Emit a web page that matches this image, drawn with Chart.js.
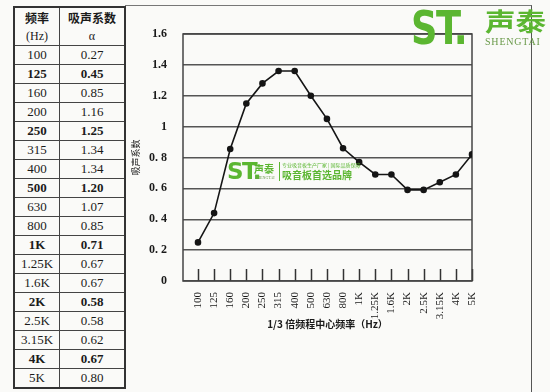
<!DOCTYPE html>
<html lang="zh">
<head>
    <meta charset="UTF-8">
    <title>吸声系数</title>
    <script src="https://cdn.jsdelivr.net/npm/chart.js"></script>
    <style>
        body {
            margin: 0;
            width: 550px;
            height: 392px;
            background-color: #fafaf8;
            position: relative;
            overflow: hidden;
            font-family: "Liberation Serif", serif;
            color: #1a1a1a;
        }

        table {
            position: absolute;
            left: 13px;
            top: 6px;
            width: 113px;
            border-collapse: collapse;
            border: 2px solid #333;
            font-size: 13px;
        }

        table th, table td {
            border: 1px solid #444;
            text-align: center;
            padding: 0;
            height: 18px;
            line-height: 18px;
        }

        table th {
            height: 37px;
            line-height: 17px;
            font-family: "Noto Sans CJK SC", sans-serif;
            font-size: 12px;
        }

        table th small {
            font-family: "Liberation Serif", serif;
            font-size: 12px;
            font-weight: normal;
        }

        tr.b td {
            font-weight: bold;
        }

        #frame {
            position: absolute;
            left: 125px;
            top: 5px;
            width: 406px;
            height: 400px;
            border-top: 1.5px solid #777;
            border-right: 1.5px solid #555;
        }

        #chart {
            position: absolute;
            left: 126px;
            top: 7px;
        }

        .logo {
            position: absolute;
            color: #5bb631;
            white-space: nowrap;
            transform-origin: 0 0;
        }

        .st {
            font-family: "DejaVu Sans", sans-serif;
            font-weight: bold;
            line-height: normal;
        }

        .cn {
            font-family: "Noto Sans CJK SC", sans-serif;
            font-weight: bold;
        }

        .en {
            font-family: "Liberation Serif", serif;
            color: #6a9a4a;
        }
    </style>
</head>
<body>
    <table>
        <thead>
            <tr>
                <th style="width:44px">频率<br><small>(Hz)</small></th>
                <th>吸声系数<br><small>α</small></th>
            </tr>
        </thead>
        <tbody id="rows"></tbody>
    </table>

    <div id="frame"></div>
    <canvas id="chart" width="405" height="385"></canvas>

    <!-- top right logo -->
    <div class="logo st" style="left:411px; top:1px; font-size:46px; letter-spacing:-2px; transform:scaleX(0.8);">ST.</div>
    <div class="logo cn" style="left:485px; top:2px; font-size:25px; transform:scaleX(1.22);">声泰</div>
    <div class="logo en" style="left:485px; top:36px; font-size:10px; letter-spacing:0.8px;">SHENGTAI</div>

    <!-- watermark in the middle -->
    <div class="logo st" style="left:227px; top:158px; font-size:23px; letter-spacing:-1.5px;">ST.</div>
    <div class="logo cn" style="left:254px; top:161px; font-size:10px;">声泰</div>
    <div class="logo en" style="left:255px; top:175px; font-size:4px;">SHENGTAI</div>
    <div class="logo" style="left:279px; top:162px; border-left:1px solid #5bb631; padding-left:2px;">
        <div class="cn" style="font-size:5px; font-weight:normal; line-height:6px;">专业吸音板生产厂家 | 国际品质保障</div>
        <div class="cn" style="font-size:10px; line-height:13px;">吸音板首选品牌</div>
    </div>

    <script>
        // frequency bands (1/3 octave) and values
        const freqLabels = ['100', '125', '160', '200', '250', '315', '400', '500', '630', '800',
            '1K', '1.25K', '1.6K', '2K', '2.5K', '3.15K', '4K', '5K'];
        const tableValues = ['0.27', '0.45', '0.85', '1.16', '1.25', '1.34', '1.34', '1.20', '1.07', '0.85',
            '0.71', '0.67', '0.67', '0.58', '0.58', '0.62', '0.67', '0.80'];
        const boldRows = ['125', '250', '500', '1K', '2K', '4K'];
        // values as drawn on the curve
        const curveValues = [0.25, 0.44, 0.855, 1.15, 1.28, 1.36, 1.36, 1.2, 1.05, 0.86,
            0.77, 0.69, 0.69, 0.59, 0.59, 0.64, 0.69, 0.82];
        const yTicks = [0, 0.2, 0.4, 0.6, 0.8, 1, 1.2, 1.4, 1.6];
        const yTickLabels = ['0', '0. 2', '0. 4', '0. 6', '0. 8', '1', '1.2', '1.4', '1.6'];

        // fill the table
        const tbody = document.getElementById('rows');
        freqLabels.forEach((f, i) => {
            const row = document.createElement('tr');
            if (boldRows.includes(f)) row.className = 'b';
            const c1 = document.createElement('td');
            c1.textContent = f;
            const c2 = document.createElement('td');
            c2.textContent = tableValues[i];
            row.appendChild(c1);
            row.appendChild(c2);
            tbody.appendChild(row);
        });

        // plot frame + little tick marks standing inside the plot
        const frameTicks = {
            id: 'frameTicks',
            beforeDatasetsDraw(chart) {
                const { ctx, chartArea: a, scales: { x } } = chart;
                ctx.save();
                ctx.strokeStyle = '#333';
                ctx.lineWidth = 1.5;
                freqLabels.forEach((_, i) => {
                    const px = Math.round(x.getPixelForValue(i)) + 0.5;
                    ctx.beginPath();
                    ctx.moveTo(px, a.bottom);
                    ctx.lineTo(px, a.bottom - 12);
                    ctx.stroke();
                });
                ctx.strokeStyle = '#444';
                ctx.strokeRect(a.left, a.top, a.right - a.left, a.bottom - a.top);
                ctx.restore();
            }
        };

        const ctx = document.getElementById('chart').getContext('2d');
        new Chart(ctx, {
            type: 'line',
            data: {
                datasets: [{
                    data: curveValues.map((v, i) => ({ x: i, y: v })),
                    borderColor: '#151515',
                    backgroundColor: '#151515',
                    borderWidth: 1.6,
                    pointRadius: 2.5,
                    tension: 0
                }]
            },
            options: {
                responsive: false,
                animation: false,
                devicePixelRatio: 1,
                layout: { padding: { top: 27, right: 59, left: 0, bottom: 58 } },
                plugins: { legend: { display: false }, tooltip: { enabled: false } },
                scales: {
                    x: {
                        type: 'linear',
                        min: -0.93,
                        max: 17,
                        afterBuildTicks: scale => {
                            scale.ticks = freqLabels.map((_, i) => ({ value: i }));
                        },
                        afterFit: scale => { scale.height = 53; },
                        grid: { display: false, drawTicks: false },
                        border: { display: false },
                        ticks: {
                            autoSkip: false,
                            minRotation: 90,
                            maxRotation: 90,
                            padding: 11,
                            color: '#1a1a1a',
                            font: { family: 'Liberation Serif', size: 11 },
                            callback: v => freqLabels[v]
                        },
                        title: {
                            display: true,
                            text: '1/3 倍频程中心频率（Hz）',
                            color: '#1a1a1a',
                            font: { family: 'Noto Sans CJK SC', size: 10, weight: 'bold' }
                        }
                    },
                    y: {
                        min: 0,
                        max: 1.6,
                        afterBuildTicks: scale => {
                            scale.ticks = yTicks.map(v => ({ value: v }));
                        },
                        afterFit: scale => { scale.width = 57; },
                        grid: { color: '#555', lineWidth: 1.4, drawTicks: false },
                        border: { display: false },
                        ticks: {
                            padding: 16,
                            color: '#1a1a1a',
                            font: { family: 'Liberation Serif', size: 12, weight: 'bold' },
                            callback: v => yTickLabels[yTicks.indexOf(v)]
                        },
                        title: {
                            display: true,
                            text: '吸声系数',
                            color: '#1a1a1a',
                            font: { family: 'Noto Sans CJK SC', size: 9 }
                        }
                    }
                }
            },
            plugins: [frameTicks]
        });
    </script>
</body>
</html>
